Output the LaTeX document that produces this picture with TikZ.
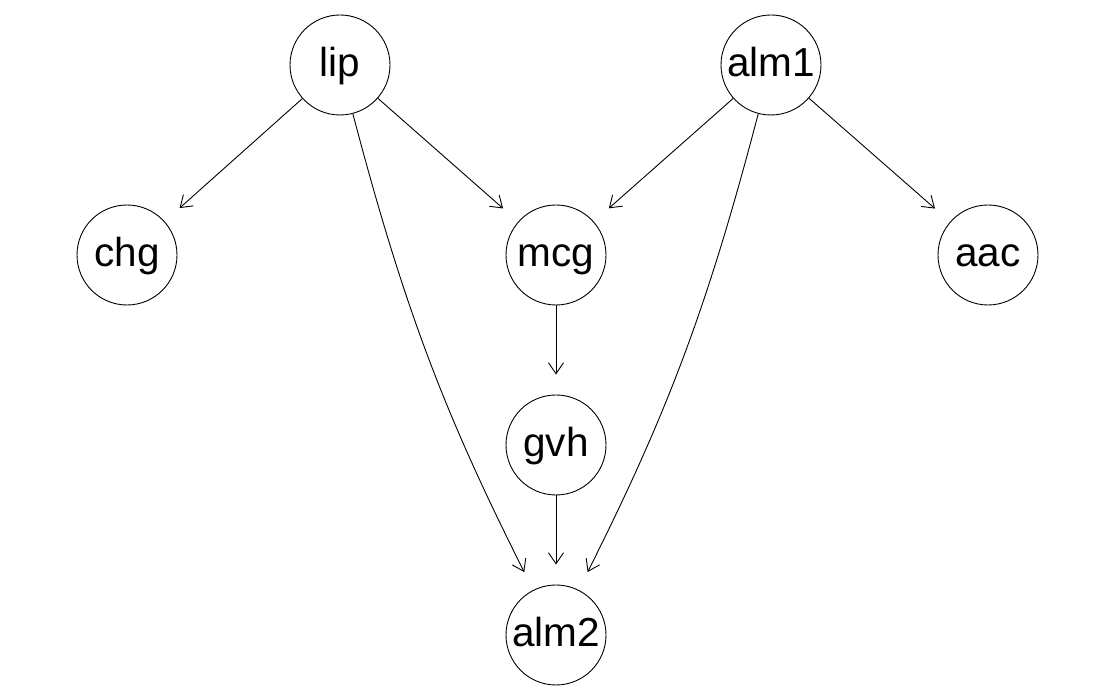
\documentclass[tikz,border=0pt]{standalone}
\usepackage{fontspec}
\setmainfont{Liberation Sans}
\usetikzlibrary{arrows.meta}
\begin{document}
\begin{tikzpicture}[x=1pt,y=1pt,
  vnode/.style={draw, circle, line width=0.9pt, minimum size=100pt, inner sep=0pt, text height=24pt, text depth=0pt, font=\fontsize{40.5}{40}\selectfont},
  edge/.style={line width=0.9pt, -{Straight Barb[length=11pt,width=15pt]}, shorten >=20pt}]
\useasboundingbox (0,0) rectangle (1117,700);
\node[vnode] (lip)  at (340,635) {lip};
\node[vnode] (alm1) at (771,635) {alm1};
\node[vnode] (chg)  at (127,445) {chg};
\node[vnode] (mcg)  at (556,445) {mcg};
\node[vnode] (aac)  at (988,445) {aac};
\node[vnode] (gvh)  at (556,255) {gvh};
\node[vnode] (alm2) at (556,65)  {alm2};
\draw[edge] (lip) -- (chg);
\draw[edge] (lip) -- (mcg);
\draw[edge] (alm1) -- (mcg);
\draw[edge] (alm1) -- (aac);
\draw[edge] (mcg) -- (gvh);
\draw[edge] (gvh) -- (alm2);
\draw[edge] (lip) to[bend right=6] (alm2);
\draw[edge] (alm1) to[bend left=6] (alm2);
\end{tikzpicture}
\end{document}
